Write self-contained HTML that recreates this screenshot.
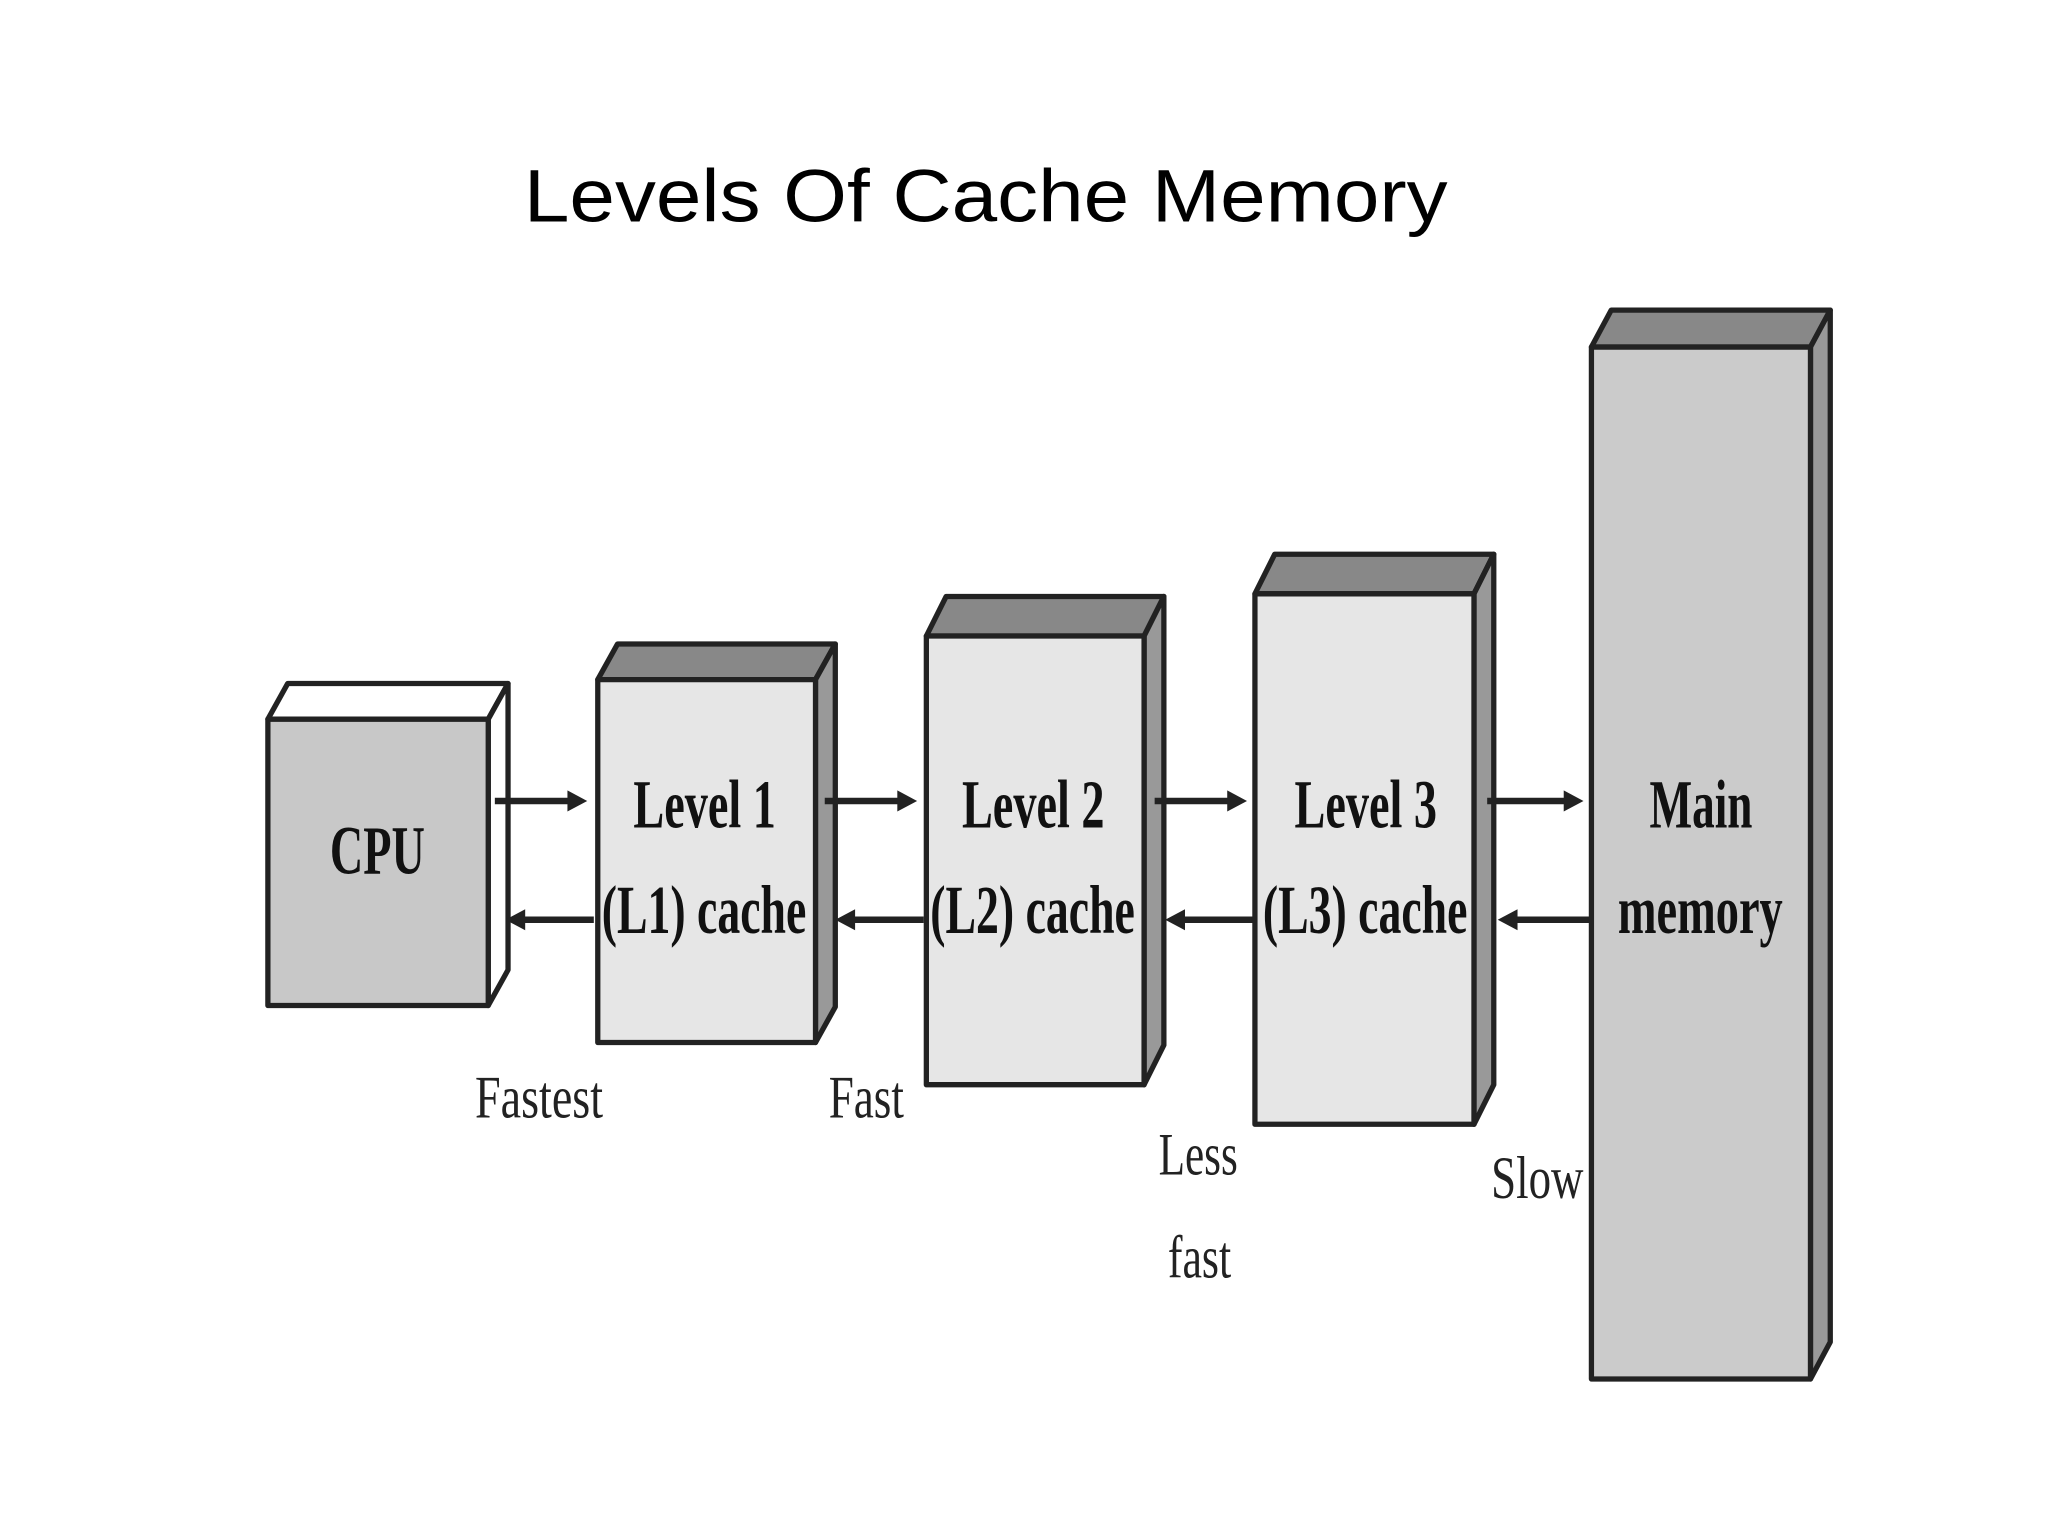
<!DOCTYPE html>
<html><head><style>html,body{margin:0;padding:0;background:#fff;width:2048px;height:1536px;overflow:hidden}</style></head>
<body>
<svg width="2048" height="1536" viewBox="0 0 1552 1164" preserveAspectRatio="none" xmlns="http://www.w3.org/2000/svg">
<rect width="1552" height="1164" fill="#fff"/>
<text x="397" y="168" font-family="Liberation Sans, sans-serif" font-size="56" textLength="700" lengthAdjust="spacingAndGlyphs" fill="#000">Levels Of Cache Memory</text>
<g stroke="#222" stroke-width="4" stroke-linejoin="round">
<!-- CPU -->
<polygon points="203,545 218,518 385,518 370,545" fill="#fff"/>
<polygon points="370,545 385,518 385,735 370,762" fill="#fff"/>
<rect x="203" y="545" width="167" height="217" fill="#c8c8c8"/>
<!-- L1 -->
<polygon points="453,515 468,488 633,488 618,515" fill="#888"/>
<polygon points="618,515 633,488 633,763 618,790" fill="#999"/>
<rect x="453" y="515" width="165" height="275" fill="#e6e6e6"/>
<!-- L2 -->
<polygon points="702,482 717,452 882,452 867,482" fill="#888"/>
<polygon points="867,482 882,452 882,792 867,822" fill="#999"/>
<rect x="702" y="482" width="165" height="340" fill="#e6e6e6"/>
<!-- L3 -->
<polygon points="951,450 966,420 1132,420 1117,450" fill="#888"/>
<polygon points="1117,450 1132,420 1132,822 1117,852" fill="#999"/>
<rect x="951" y="450" width="166" height="402" fill="#e6e6e6"/>
<!-- Main -->
<polygon points="1206,263 1221,235 1387,235 1372,263" fill="#888"/>
<polygon points="1372,263 1387,235 1387,1017 1372,1045" fill="#999"/>
<rect x="1206" y="263" width="166" height="782" fill="#cbcbcb"/>
</g>
<g stroke="#222" stroke-width="5" fill="#222">
<line x1="375" y1="607" x2="432" y2="607"/><polygon points="445,607 430,599 430,615" stroke="none"/>
<line x1="450" y1="697" x2="396" y2="697"/><polygon points="383,697 398,689 398,705" stroke="none"/>
<line x1="625" y1="607" x2="682" y2="607"/><polygon points="695,607 680,599 680,615" stroke="none"/>
<line x1="700" y1="697" x2="646" y2="697"/><polygon points="633,697 648,689 648,705" stroke="none"/>
<line x1="875" y1="607" x2="932" y2="607"/><polygon points="945,607 930,599 930,615" stroke="none"/>
<line x1="950" y1="697" x2="896" y2="697"/><polygon points="883,697 898,689 898,705" stroke="none"/>
<line x1="1127" y1="607" x2="1187" y2="607"/><polygon points="1200,607 1185,599 1185,615" stroke="none"/>
<line x1="1205" y1="697" x2="1148" y2="697"/><polygon points="1135,697 1150,689 1150,705" stroke="none"/>
</g>
<g font-family="Liberation Serif, serif" font-weight="bold" fill="#111" font-size="52" lengthAdjust="spacingAndGlyphs">
<text x="250" y="662" textLength="72" lengthAdjust="spacingAndGlyphs">CPU</text>
<text x="480" y="627" textLength="108" lengthAdjust="spacingAndGlyphs">Level 1</text>
<text x="456" y="707" textLength="155" lengthAdjust="spacingAndGlyphs">(L1) cache</text>
<text x="729" y="627" textLength="108" lengthAdjust="spacingAndGlyphs">Level 2</text>
<text x="705" y="707" textLength="155" lengthAdjust="spacingAndGlyphs">(L2) cache</text>
<text x="981" y="627" textLength="108" lengthAdjust="spacingAndGlyphs">Level 3</text>
<text x="957" y="707" textLength="155" lengthAdjust="spacingAndGlyphs">(L3) cache</text>
<text x="1250" y="627" textLength="78" lengthAdjust="spacingAndGlyphs">Main</text>
<text x="1226" y="707" textLength="125" lengthAdjust="spacingAndGlyphs">memory</text>
</g>
<g font-family="Liberation Serif, serif" fill="#222" font-size="46">
<text x="360" y="847" textLength="97" lengthAdjust="spacingAndGlyphs">Fastest</text>
<text x="628" y="847" textLength="57" lengthAdjust="spacingAndGlyphs">Fast</text>
<text x="878" y="890" textLength="60" lengthAdjust="spacingAndGlyphs">Less</text>
<text x="885" y="968" textLength="48" lengthAdjust="spacingAndGlyphs">fast</text>
<text x="1130" y="908" textLength="70" lengthAdjust="spacingAndGlyphs">Slow</text>
</g>
</svg>
</body></html>
